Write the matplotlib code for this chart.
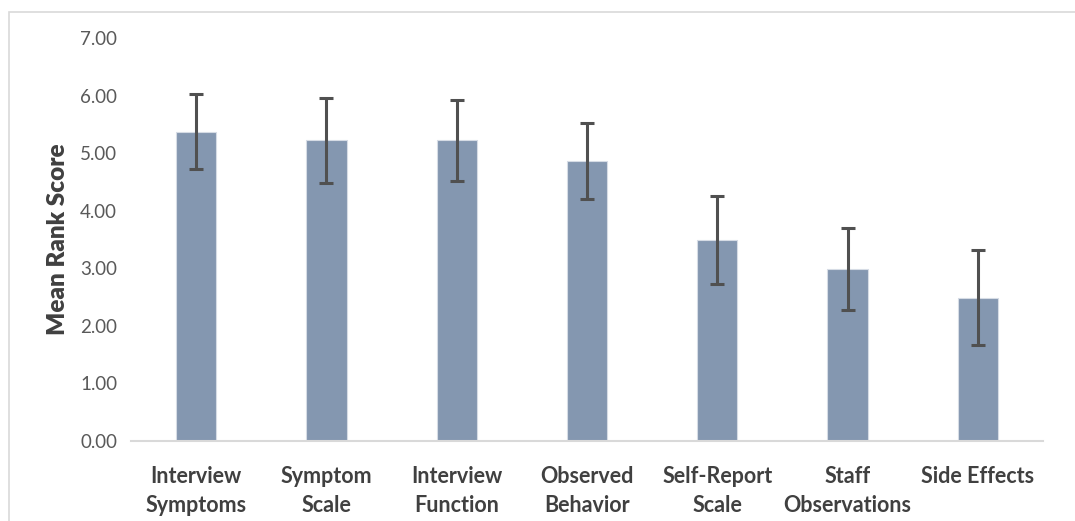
import matplotlib.pyplot as plt
import matplotlib.patches as patches
import numpy as np

# data
categories = ['Interview\nSymptoms', 'Symptom\nScale', 'Interview\nFunction',
              'Observed\nBehavior', 'Self-Report\nScale', 'Staff\nObservations',
              'Side Effects']
mean_rank = [5.37, 5.22, 5.22, 4.87, 3.49, 2.99, 2.49]
err = [0.65, 0.73, 0.70, 0.66, 0.77, 0.71, 0.83]
yticks = [0, 1, 2, 3, 4, 5, 6, 7]

fonts = ['Lato', 'DejaVu Sans']
plt.rcParams['font.family'] = fonts

fig = plt.figure(figsize=(10.75, 5.21), dpi=100)
ax = fig.add_axes([131/1075, 1 - 441/521, (1043 - 131)/1075, (441 - 38)/521])

x = np.arange(len(categories))
ax.bar(x, mean_rank, width=0.31, color='#8497B0', edgecolor='#d6dce5', linewidth=0.8,
       zorder=2)
ax.errorbar(x, mean_rank, yerr=err, fmt='none', ecolor='#505050', elinewidth=2.2,
            capsize=5, capthick=2.2, zorder=3)

ax.set_xlim(-0.5, len(categories) - 0.5)
ax.set_ylim(0, 7)
ax.set_yticks(yticks)
ax.set_yticklabels([f'{v:.2f}' for v in yticks], color='#595959', fontsize=13.5)
ax.set_xticks(x)
ax.set_xticklabels(categories, color='#404040', fontsize=15.5, fontweight='bold',
                   linespacing=1.45)
ax.tick_params(axis='both', length=0)
ax.tick_params(axis='y', pad=10)
ax.tick_params(axis='x', pad=18)

for s in ['top', 'right', 'left']:
    ax.spines[s].set_visible(False)
ax.spines['bottom'].set_color('#d9d9d9')
ax.spines['bottom'].set_linewidth(1.5)

ax.set_ylabel('Mean Rank Score', fontsize=17.5, fontweight='heavy', color='#404040',
              labelpad=8)

# chart area border (runs off the right and bottom edge)
fig.patches.append(patches.Rectangle((9/1075, -0.05), 1.1, 1 - 12/521 + 0.05,
                                     transform=fig.transFigure, fill=False,
                                     edgecolor='#d9d9d9', linewidth=1.2))

fig.savefig('out.png', dpi=100)
